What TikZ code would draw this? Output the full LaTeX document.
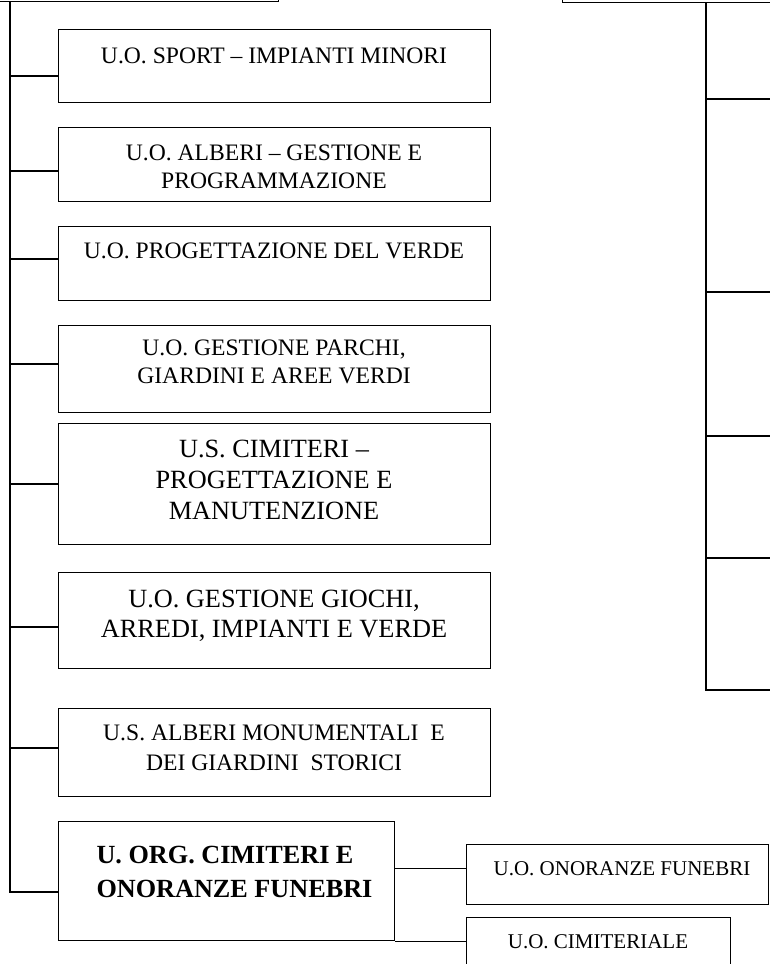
\documentclass[tikz,border=0pt]{standalone}
\usepackage{fontspec}
\setmainfont{Liberation Serif}

\begin{document}
\begin{tikzpicture}[x=1pt,y=-1pt,line width=1.1pt,
	unit/.style={draw,rectangle,inner sep=0pt,anchor=north west},
	txt/.style={font=\fontsize{23.6}{28}\selectfont,align=center,inner sep=0pt,anchor=north},
	bigtxt/.style={font=\fontsize{26.3}{31}\selectfont,align=center,inner sep=0pt,anchor=north},
	smalltxt/.style={font=\fontsize{21}{25}\selectfont,inner sep=0pt,anchor=north}]

\useasboundingbox (0,0) rectangle (769,964);

% partial boxes at the top
\node[unit,anchor=south east,minimum width=320pt,minimum height=40pt]	(topleft)	at (279,2)	{};
\node[unit,anchor=south west,minimum width=250pt,minimum height=40pt]	(topright)	at (562,3)	{};

\node[unit,minimum width=432pt,minimum height=73pt]	(sport)		at (58,29)	{};
\node[txt]	(sporttxt)	at (274,47.5)	{U.O. SPORT – IMPIANTI MINORI};

\node[unit,minimum width=432pt,minimum height=74pt]	(alberi)	at (58,127)	{};
\node[txt]	(alberitxt)	at (274,144.5)	{U.O. ALBERI – GESTIONE E\\PROGRAMMAZIONE};

\node[unit,minimum width=432pt,minimum height=74pt]	(progetto)	at (58,226)	{};
\node[txt]	(progettotxt)	at (274,242.5)	{U.O. PROGETTAZIONE DEL VERDE};

\node[unit,minimum width=432pt,minimum height=87pt]	(parchi)	at (58,325)	{};
\node[txt]	(parchitxt)	at (274,339.5)	{U.O. GESTIONE PARCHI,\\GIARDINI E AREE VERDI};

\node[unit,minimum width=432pt,minimum height=121pt]	(cimiteri)	at (58,423)	{};
\node[bigtxt]	(cimiteritxt)	at (274,439.8)	{U.S. CIMITERI –\\PROGETTAZIONE E\\MANUTENZIONE};

\node[unit,minimum width=432pt,minimum height=96pt]	(giochi)	at (58,572)	{};
\node[bigtxt,font=\fontsize{26.3}{30}\selectfont]	(giochitxt)	at (274,589.8)	{U.O. GESTIONE GIOCHI,\\ARREDI, IMPIANTI E VERDE};

\node[unit,minimum width=432pt,minimum height=88pt]	(monument)	at (58,708)	{};
\node[txt,font=\fontsize{23.6}{30}\selectfont]	(monumenttxt)	at (274,724)	{U.S. ALBERI MONUMENTALI\ \ E\\DEI GIARDINI\ \ STORICI};

\node[unit,minimum width=336pt,minimum height=119pt]	(org)	at (58,821)	{};
\node[anchor=north west,inner sep=0pt,align=left,font=\bfseries\fontsize{26.2}{34}\selectfont]	(orgtxt)	at (96,846)	{U. ORG. CIMITERI E\\ONORANZE FUNEBRI};

\node[unit,minimum width=302pt,minimum height=60pt]	(onoranze)	at (466,844)	{};
\node[smalltxt]	(onoranzetxt)	at (622,861.2)	{U.O. ONORANZE FUNEBRI};

\node[unit,minimum width=264pt,minimum height=80pt]	(cimiteriale)	at (466,917)	{};
\node[smalltxt]	(cimiterialetxt)	at (598,934.2)	{U.O. CIMITERIALE};

% left trunk
\coordinate (j1) at (10,76);
\coordinate (j2) at (10,171);
\coordinate (j3) at (10,259);
\coordinate (j4) at (10,364);
\coordinate (j5) at (10,484);
\coordinate (j6) at (10,627);
\coordinate (j7) at (10,748);
\coordinate (j8) at (10,892);

\draw (topleft.south -| j8) -- (j8) -- (j8 -| org.west);
\path	(j1) edge (j1 -| sport.west)
		(j2) edge (j2 -| alberi.west)
		(j3) edge (j3 -| progetto.west)
		(j4) edge (j4 -| parchi.west)
		(j5) edge (j5 -| cimiteri.west)
		(j6) edge (j6 -| giochi.west)
		(j7) edge (j7 -| monument.west);

% right trunk
\coordinate (rtrunk) at (706,690);
\coordinate (r1) at (775,99);
\coordinate (r2) at (775,292);
\coordinate (r3) at (775,436);
\coordinate (r4) at (775,558);
\coordinate (r5) at (775,690);

\draw (topright.south -| rtrunk) -- (rtrunk) -- (r5);
\path	(r1 -| rtrunk) edge (r1)
		(r2 -| rtrunk) edge (r2)
		(r3 -| rtrunk) edge (r3)
		(r4 -| rtrunk) edge (r4);

\path	([yshift=6pt]onoranze.west) edge ([yshift=6pt]onoranze.west -| org.east)
		(org.south east) edge (org.south east -| cimiteriale.west);

\end{tikzpicture}
\end{document}
